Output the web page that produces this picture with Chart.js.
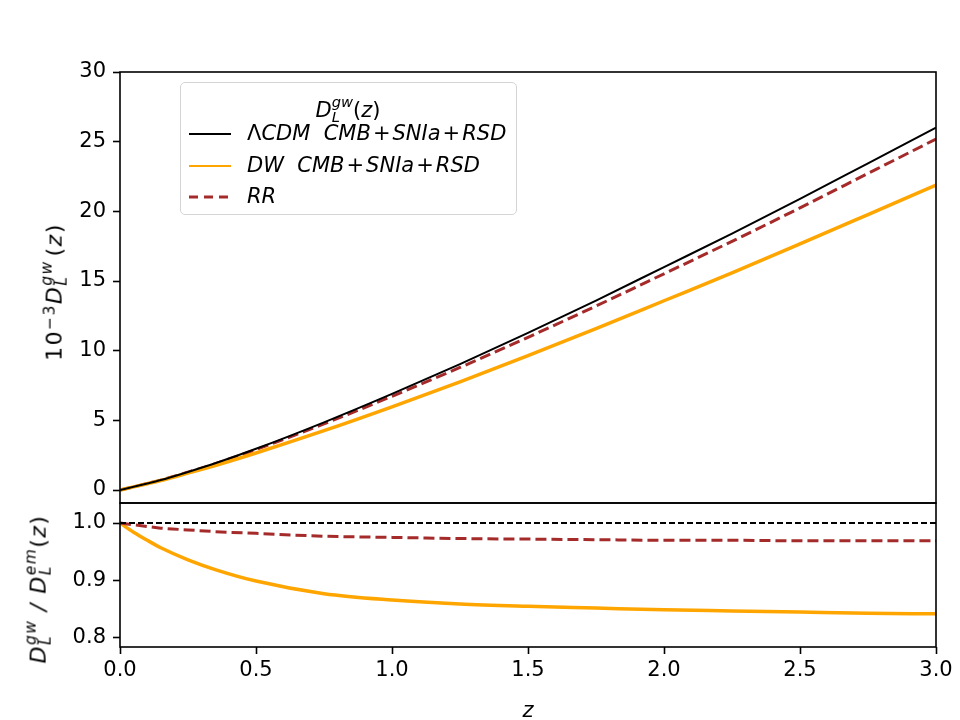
<!DOCTYPE html>
<html>
<head>
<meta charset="utf-8">
<script src="https://cdn.jsdelivr.net/npm/chart.js@4.4.1/dist/chart.umd.min.js"></script>
<style>
  html, body { margin: 0; padding: 0; background: #fff; }
  #wrap { position: relative; width: 960px; height: 720px; font-family: "DejaVu Sans", sans-serif; color: #000; }
  #wrap canvas { position: absolute; left: 0; top: 0; }
  .lab { position: absolute; font-size: 21px; line-height: 21px; white-space: nowrap; }
  .ax { font-size: 22px; line-height: 22px; letter-spacing: 1.5px; }
  .rot { transform: translate(-50%, -50%) rotate(-90deg); }
  .m { font-style: italic; }
  .op { margin: 0 2px; }
  sup { font-size: 70%; line-height: 0; vertical-align: 0.45em; }
  .ss { display: inline-block; font-size: 70%; line-height: 1; vertical-align: -0.33em; }
  .ss span { display: block; }
  #legend { position: absolute; left: 180px; top: 82px; width: 337px; height: 133px; box-sizing: border-box;
            border: 1.5px solid #d4d4d4; border-radius: 5px; background: rgba(255,255,255,0.8); }
  #legend svg { position: absolute; left: 7px; }
  #legend .lab { left: 66px; }
</style>
</head>
<body>
<div id="wrap">
  <canvas id="c" width="960" height="720"></canvas>

  <div class="lab ax rot" style="left:55px; top:292px;">10<sup>−3</sup><span class="m">D</span><span class="ss" style="margin-right:4px"><span class="m">gw</span><span class="m">L</span></span>(<span class="m">z</span>)</div>
  <div class="lab ax rot" style="left:39px; top:589px;"><span class="m">D</span><span class="ss"><span class="m">gw</span><span class="m">L</span></span> <span class="m">/</span> <span class="m">D</span><span class="ss"><span class="m">em</span><span class="m">L</span></span>(<span class="m">z</span>)</div>
  <div class="lab m" style="left:528px; top:700px; transform:translateX(-50%);">z</div>

  <div id="legend">
    <div class="lab" style="left:167px; top:12px; transform:translateX(-50%);"><span class="m">D</span><span class="ss"><span class="m">gw</span><span class="m">L</span></span>(<span class="m">z</span>)</div>
    <svg style="top:44px" width="46" height="14"><line x1="1" y1="7" x2="43" y2="7" stroke="#000" stroke-width="2"/></svg>
    <div class="lab" style="top:40px;">Λ<span class="m">CDM</span>&nbsp;&nbsp;<span class="m">CMB</span><span class="op">+</span><span class="m">SNIa</span><span class="op">+</span><span class="m">RSD</span></div>
    <svg style="top:76px" width="46" height="14"><line x1="1" y1="7" x2="43" y2="7" stroke="#ffa500" stroke-width="2"/></svg>
    <div class="lab" style="top:72px;"><span class="m">DW</span>&nbsp;&nbsp;<span class="m">CMB</span><span class="op">+</span><span class="m">SNIa</span><span class="op">+</span><span class="m">RSD</span></div>
    <svg style="top:107px" width="46" height="14"><line x1="1" y1="7" x2="43" y2="7" stroke="#a52a2a" stroke-width="3" stroke-dasharray="9,6"/></svg>
    <div class="lab" style="top:103px;"><span class="m">RR</span></div>
  </div>
</div>

<script>
// redshift grid
const zVals = [0, 0.05, 0.1, 0.15, 0.25, 0.35, 0.5, 0.75, 1, 1.25, 1.5, 1.75, 2, 2.25, 2.5, 2.75, 3];

// 10^-3 D_L^gw(z), upper panel
const dlLCDM = [0, 0.23, 0.47, 0.72, 1.30, 1.92, 2.96, 4.86, 6.90, 9.04, 11.28, 13.60, 16.00, 18.40, 20.90, 23.45, 26.00];
const dlDW   = [0, 0.226, 0.456, 0.689, 1.217, 1.764, 2.661, 4.262, 5.975, 7.765, 9.644, 11.587, 13.584, 15.585, 17.66, 19.77, 21.89];
const dlRR   = [0, 0.229, 0.467, 0.714, 1.284, 1.891, 2.907, 4.748, 6.728, 8.796, 10.964, 13.206, 15.52, 17.85, 20.25, 22.72, 25.19];

// D_L^gw / D_L^em, lower panel
const ratioLCDM = [1, 1, 1, 1, 1, 1, 1, 1, 1, 1, 1, 1, 1, 1, 1, 1, 1];
const ratioDW   = [1, 0.984, 0.970, 0.957, 0.936, 0.919, 0.899, 0.877, 0.866, 0.859, 0.855, 0.852, 0.849, 0.847, 0.845, 0.843, 0.842];
const ratioRR   = [1, 0.997, 0.994, 0.991, 0.988, 0.985, 0.982, 0.977, 0.975, 0.973, 0.972, 0.971, 0.970, 0.970, 0.969, 0.969, 0.969];

const xTicks = [0, 0.5, 1, 1.5, 2, 2.5, 3];
const topTicks = [0, 5, 10, 15, 20, 25, 30];
const botTicks = [0.8, 0.9, 1.0];

const pts = (ys) => zVals.map((z, i) => ({ x: z, y: ys[i] }));
const font = { family: "DejaVu Sans", size: 21 };

const tickGrid = {
  display: true,
  drawOnChartArea: false,
  drawTicks: true,
  tickLength: 7,
  tickWidth: 1.6,
  tickColor: "#000",
};

// box around each panel
const frames = {
  id: "frames",
  afterDatasetsDraw(chart) {
    const ctx = chart.ctx;
    const a = chart.chartArea;
    ctx.save();
    ctx.strokeStyle = "#000";
    ctx.lineWidth = 1.6;
    ["yd", "yr"].forEach((id) => {
      const s = chart.scales[id];
      ctx.strokeRect(a.left, s.top, a.right - a.left, s.bottom - s.top);
    });
    ctx.restore();
  },
};

new Chart(document.getElementById("c"), {
  type: "line",
  data: {
    datasets: [
      { data: pts(dlLCDM), yAxisID: "yd", borderColor: "#000", borderWidth: 2 },
      { data: pts(dlDW), yAxisID: "yd", borderColor: "#ffa500", borderWidth: 3.5 },
      { data: pts(dlRR), yAxisID: "yd", borderColor: "#a52a2a", borderWidth: 3, borderDash: [11, 5] },
      { data: pts(ratioLCDM), yAxisID: "yr", borderColor: "#000", borderWidth: 2, borderDash: [6, 3] },
      { data: pts(ratioRR), yAxisID: "yr", borderColor: "#a52a2a", borderWidth: 3, borderDash: [11, 5] },
      { data: pts(ratioDW), yAxisID: "yr", borderColor: "#ffa500", borderWidth: 3.5 },
    ],
  },
  options: {
    responsive: false,
    animation: false,
    layout: { padding: { left: 10, right: 24, top: 72, bottom: 0 } },
    plugins: { legend: { display: false }, tooltip: { enabled: false } },
    elements: {
      point: { radius: 0 },
      line: { cubicInterpolationMode: "monotone", fill: false },
    },
    scales: {
      x: {
        type: "linear",
        min: 0,
        max: 3,
        afterBuildTicks: (s) => { s.ticks = xTicks.map((v) => ({ value: v })); },
        afterFit: (s) => { s.height = 73; },
        ticks: { font, color: "#000", padding: 4, maxRotation: 0, callback: (v) => v.toFixed(1) },
        grid: tickGrid,
        border: { display: false },
      },
      yr: {
        type: "linear",
        position: "left",
        stack: "panels",
        stackWeight: 144,
        min: 0.7843,
        max: 1.0348,
        afterBuildTicks: (s) => { s.ticks = botTicks.map((v) => ({ value: v })); },
        afterFit: (s) => { s.width = 110; },
        ticks: { font, color: "#000", padding: 7, callback: (v) => v.toFixed(1) },
        grid: tickGrid,
        border: { display: false },
      },
      yd: {
        type: "linear",
        position: "left",
        stack: "panels",
        stackWeight: 431,
        min: -0.93,
        max: 30,
        afterBuildTicks: (s) => { s.ticks = topTicks.map((v) => ({ value: v })); },
        afterFit: (s) => { s.width = 110; },
        ticks: { font, color: "#000", padding: 7, callback: (v) => String(v) },
        grid: tickGrid,
        border: { display: false },
      },
    },
  },
  plugins: [frames],
});
</script>
</body>
</html>
